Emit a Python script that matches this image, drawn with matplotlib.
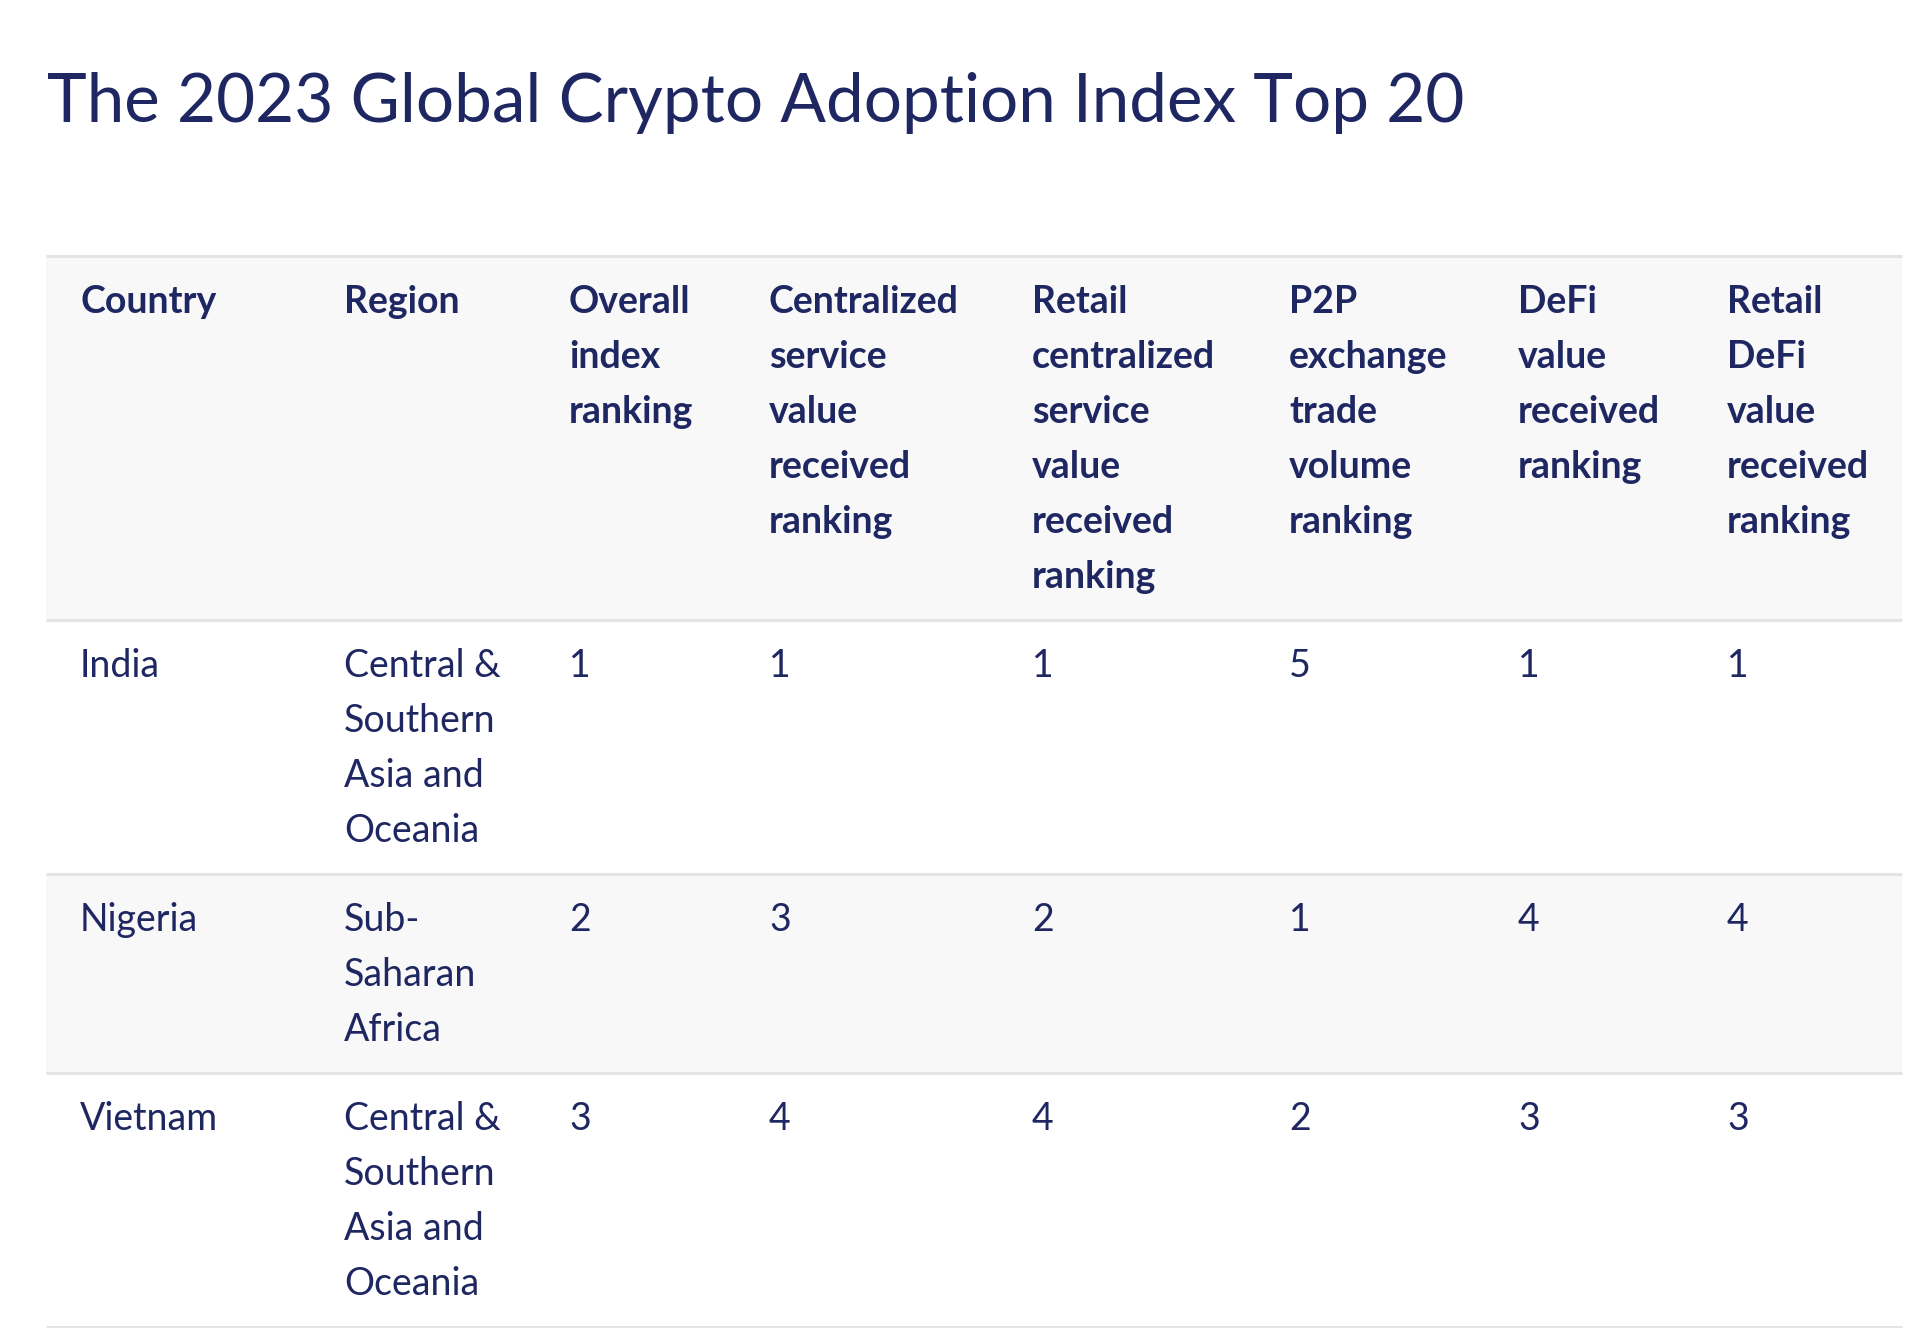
import matplotlib
matplotlib.use("Agg")
from matplotlib import pyplot as plt

title = "The 2023 Global Crypto Adoption Index Top 20"

headers = [
    "Country",
    "Region",
    "Overall\nindex\nranking",
    "Centralized\nservice\nvalue\nreceived\nranking",
    "Retail\ncentralized\nservice\nvalue\nreceived\nranking",
    "P2P\nexchange\ntrade\nvolume\nranking",
    "DeFi\nvalue\nreceived\nranking",
    "Retail\nDeFi\nvalue\nreceived\nranking",
]

countries = ["India", "Nigeria", "Vietnam"]
regions = [
    "Central &\nSouthern\nAsia and\nOceania",
    "Sub-\nSaharan\nAfrica",
    "Central &\nSouthern\nAsia and\nOceania",
]
overall_rank = [1, 2, 3]
centralized_rank = [1, 3, 4]
retail_centralized_rank = [1, 2, 4]
p2p_rank = [5, 1, 2]
defi_rank = [1, 4, 3]
retail_defi_rank = [1, 4, 3]

# layout in pixels
W, H = 1920, 1328
col_x = [80, 344, 569, 769, 1032, 1289, 1518, 1727]
table_left, table_right = 46, 1902
table_top = 256
line_h = 55
row_pad = 34
first_base = 57

text_color = "#1e2761"
grid_color = "#e4e4e4"
stripe = "#f8f8f8"
font = "Lato"

fig = plt.figure(figsize=(W / 100, H / 100), dpi=100)
ax = fig.add_axes([0, 0, 1, 1])
ax.set_xlim(0, W)
ax.set_ylim(H, 0)
ax.axis("off")

ax.text(47, 122, title, fontsize=48.5, color=text_color, family=font,
        va="baseline", ha="left")


def draw_row(top, cells, bold, fill):
    n = max(len(c.split("\n")) for c in cells)
    bottom = top + n * line_h + row_pad
    if fill:
        ax.axhspan(top, bottom, xmin=table_left / W, xmax=table_right / W,
                   color=fill, zorder=0, lw=0)
    for x, c in zip(col_x, cells):
        for i, line in enumerate(c.split("\n")):
            ax.text(x, top + first_base + i * line_h, line, fontsize=27,
                    color=text_color, family=font,
                    fontweight="bold" if bold else "normal",
                    va="baseline", ha="left")
    ax.plot([table_left, table_right], [bottom, bottom], color=grid_color,
            lw=2.2, zorder=1, solid_capstyle="butt")
    return bottom


ax.plot([table_left, table_right], [table_top, table_top], color=grid_color,
        lw=2.2, zorder=1, solid_capstyle="butt")
y = draw_row(table_top, headers, True, stripe)

for k in range(len(countries)):
    cells = [countries[k], regions[k], str(overall_rank[k]),
             str(centralized_rank[k]), str(retail_centralized_rank[k]),
             str(p2p_rank[k]), str(defi_rank[k]), str(retail_defi_rank[k])]
    y = draw_row(y, cells, False, stripe if k % 2 == 1 else None)

fig.savefig("out.png", dpi=100, facecolor="white")
